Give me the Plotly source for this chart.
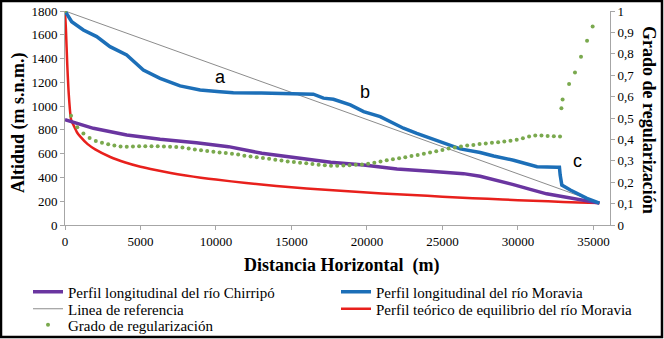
import plotly.graph_objects as go

# ---------------- data ----------------
ref_x = [0, 35400]
ref_y = [1800, 184]

moravia_x = [0, 110, 443, 1215, 2100, 2980, 4085, 5190, 6295, 7620, 8950, 10270, 11150, 13000,
             15570, 16450, 17120, 17780, 18900, 19780, 20880, 21540, 22420, 23300, 24190, 25510,
             26180, 27500, 28390, 29710, 30600, 31270, 32590, 32750, 32800, 32910, 33470, 34570, 35400]
moravia_y = [1800, 1780, 1710, 1640, 1585, 1500, 1430, 1304, 1234, 1170, 1135, 1121, 1113, 1110,
             1108, 1100, 1067, 1058, 1010, 954, 912, 870, 814, 770, 729, 673,
             640, 610, 580, 545, 510, 490, 485, 485, 420, 336, 294, 224, 184]

chirripo_x = [0, 1880, 4090, 6300, 8700, 10830, 13040, 15250, 17600, 19780, 21990, 24190,
              26400, 27500, 28600, 29700, 30820, 31900, 33020, 34200, 35400]
chirripo_y = [885, 813, 757, 721, 692, 659, 603, 566, 528, 505, 471, 452,
              432, 410, 378, 340, 300, 262, 238, 210, 184]

teorico_x = [0, 60, 150, 250, 400, 600, 800, 1000, 1500, 2000, 3000, 4000, 5000, 6000, 7000,
             8000, 9000, 10000, 12000, 14000, 16000, 18000, 20000, 22000, 24000, 26000, 28000,
             30000, 32000, 34000, 35400]
teorico_y = [1800, 1650, 1350, 1100, 890, 830, 778, 745, 680, 636, 572, 526, 490, 462, 437,
             416, 398, 382, 353, 329, 308, 290, 273, 258, 245, 232, 220,
             209, 199, 190, 184]

grado_x = [0, 400, 810, 1220, 1630, 2040, 2450, 2860, 3270, 3680, 4090, 4500, 4910, 5320, 5730,
           6140, 6550, 6960, 7370, 7780, 8190, 8600, 9010, 9420, 9830, 10240, 10650, 11060,
           11470, 11880, 12290, 12700, 13110, 13520, 13930, 14340, 14750, 15160, 15570, 15980,
           16390, 16800, 17210, 17620, 18030, 18440, 18850, 19260, 19670, 20080, 20490, 20900,
           21310, 21720, 22130, 22540, 22950, 23360, 23770, 24180, 24590, 25000, 25410, 25820,
           26230, 26640, 27050, 27460, 27870, 28280, 28690, 29100, 29510, 29920, 30330, 30740,
           31150, 31560, 31970, 32380, 32790, 32880, 32960, 33390, 33780, 34180, 34580, 34950]
grado_y = [1.0, 0.51, 0.457, 0.427, 0.407, 0.393, 0.384, 0.377, 0.371, 0.367, 0.366, 0.367,
           0.368, 0.368, 0.368, 0.368, 0.367, 0.366, 0.365, 0.362, 0.358, 0.353, 0.349, 0.346,
           0.342, 0.339, 0.336, 0.333, 0.329, 0.324, 0.32, 0.317, 0.313, 0.309, 0.305, 0.301,
           0.297, 0.294, 0.291, 0.288, 0.285, 0.282, 0.279, 0.277, 0.277, 0.278, 0.279, 0.281,
           0.283, 0.286, 0.291, 0.297, 0.302, 0.307, 0.312, 0.317, 0.322, 0.327, 0.333, 0.339,
           0.345, 0.351, 0.357, 0.362, 0.367, 0.371, 0.374, 0.378, 0.381, 0.384, 0.387, 0.39,
           0.394, 0.398, 0.405, 0.414, 0.418, 0.418, 0.416, 0.415, 0.414, 0.545, 0.587, 0.659,
           0.713, 0.786, 0.861, 0.927]

x_tickvals = [0, 5000, 10000, 15000, 20000, 25000, 30000, 35000]
x_ticktext = ["0", "5000", "10000", "15000", "20000", "25000", "30000", "35000"]
y_tickvals = [0, 200, 400, 600, 800, 1000, 1200, 1400, 1600, 1800]
y_ticktext = ["0", "200", "400", "600", "800", "1000", "1200", "1400", "1600", "1800"]
y2_tickvals = [0, 0.1, 0.2, 0.3, 0.4, 0.5, 0.6, 0.7, 0.8, 0.9, 1]
y2_ticktext = ["0", "0,1", "0,2", "0,3", "0,4", "0,5", "0,6", "0,7", "0,8", "0,9", "1"]

# ---------------- figure ----------------
SERIF = "Liberation Serif"
W, H = 664, 339
ML, MR, MT, MB = 65, 54, 11, 114
PW, PH = W - ML - MR, H - MT - MB


def px_x(p):
    return (p - ML) / PW


def px_y(p):
    return (H - MB - p) / PH


fig = go.Figure()

fig.add_trace(go.Scatter(x=ref_x, y=ref_y, mode="lines", name="Linea de referencia",
                         line=dict(color="#8c8c8c", width=1), legend="legend3"))
fig.add_trace(go.Scatter(x=teorico_x, y=teorico_y, mode="lines",
                         name="Perfil teórico de equilibrio del río Moravia",
                         line=dict(color="#e8201c", width=2.5, shape="spline", smoothing=0.6),
                         legend="legend4"))
fig.add_trace(go.Scatter(x=chirripo_x, y=chirripo_y, mode="lines",
                         name="Perfil longitudinal del río Chirripó",
                         line=dict(color="#6a35a0", width=3.5), legend="legend"))
fig.add_trace(go.Scatter(x=moravia_x, y=moravia_y, mode="lines",
                         name="Perfil longitudinal del río Moravia",
                         line=dict(color="#1c6fb8", width=3.5), legend="legend2"))
fig.add_trace(go.Scatter(x=grado_x, y=grado_y, mode="markers", name="Grado de regularización",
                         marker=dict(color="#7aa94e", size=4), yaxis="y2", legend="legend5"))

axis_common = dict(showgrid=False, zeroline=False, showline=True, linecolor="#a6a6a6",
                   linewidth=1, ticks="outside", tickcolor="#a6a6a6", ticklen=4,
                   tickfont=dict(family=SERIF, size=13, color="#000"))


def leg(xp, yp):
    return dict(x=px_x(xp), y=px_y(yp), xanchor="left", yanchor="middle",
                orientation="v", bgcolor="rgba(0,0,0,0)", itemwidth=30,
                font=dict(family=SERIF, size=15, color="#000"))


col1, col2 = 28, 336
row1, row2, row3 = 292, 309, 325

fig.update_layout(
    width=W, height=H,
    margin=dict(l=ML, r=MR, t=MT, b=MB, pad=0, autoexpand=False),
    paper_bgcolor="white", plot_bgcolor="white",
    showlegend=True,
    xaxis=dict(range=[0, 36100], tickmode="array", tickvals=x_tickvals, ticktext=x_ticktext,
               **axis_common),
    yaxis=dict(range=[0, 1800], tickmode="array", tickvals=y_tickvals,
               ticktext=y_ticktext, **axis_common),
    yaxis2=dict(range=[0, 1], overlaying="y", side="right", tickmode="array",
                tickvals=y2_tickvals, ticktext=y2_ticktext, **axis_common),
    legend=leg(col1, row1),
    legend2=leg(col2, row1),
    legend3=leg(col1, row2),
    legend4=leg(col2, row2),
    legend5=leg(col1, row3),
    annotations=[
        dict(text="<b>Distancia Horizontal  (m)</b>", xref="paper", yref="paper",
             x=px_x(341), y=px_y(265), xanchor="center", yanchor="middle", showarrow=False,
             font=dict(family=SERIF, size=18, color="#000")),
        dict(text="<b>Altidud (m s.n.m.)</b>", xref="paper", yref="paper",
             x=px_x(18), y=px_y(123), xanchor="center", yanchor="middle", showarrow=False,
             textangle=-90, font=dict(family=SERIF, size=18, color="#000")),
        dict(text="<b>Grado de regularización</b>", xref="paper", yref="paper",
             x=px_x(649), y=px_y(120), xanchor="center", yanchor="middle", showarrow=False,
             textangle=90, font=dict(family=SERIF, size=18, color="#000")),
        dict(text="a", x=10320, y=1245, xref="x", yref="y", showarrow=False,
             font=dict(family="Liberation Sans", size=18, color="#000")),
        dict(text="b", x=19886, y=1120, xref="x", yref="y", showarrow=False,
             font=dict(family="Liberation Sans", size=18, color="#000")),
        dict(text="c", x=33920, y=535, xref="x", yref="y", showarrow=False,
             font=dict(family="Liberation Sans", size=18, color="#000")),
    ],
    shapes=[
        dict(type="rect", xref="paper", yref="paper",
             x0=px_x(1), x1=px_x(662), y0=px_y(337), y1=px_y(1),
             line=dict(color="#000", width=2.5), fillcolor="rgba(0,0,0,0)", layer="above"),
    ],
)

fig.write_html("out.html", config={"displayModeBar": False},
               post_script="document.body.style.margin='0px';document.body.style.overflow='hidden';")
